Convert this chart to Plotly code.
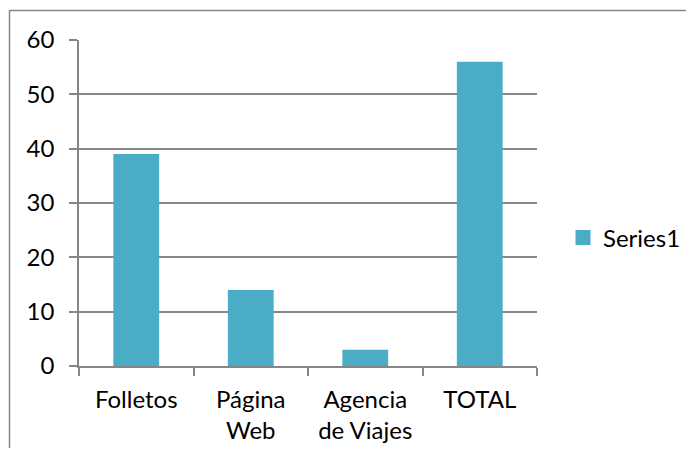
import plotly.graph_objects as go

categories = ["Folletos", "Página<br>Web", "Agencia<br>de Viajes", "TOTAL"]
values = [39, 14, 3, 56]
series_name = "Series1"
y_ticks = [0, 10, 20, 30, 40, 50, 60]

# page body margin offset (8px) compensated
OFF = 8
W, H = 678, 440
L, R, T, B = 79 - OFF, 157 - OFF, 40 - OFF, 90 - OFF
pw, ph = W - L - R, H - T - B

def px_x(p):
    return (p - OFF - L) / pw

def px_y(p):
    return (H - B - (p - OFF)) / ph

gray = "#868686"
bar_color = "#4BACC6"
font = dict(family="Lato, Open Sans, sans-serif", size=24, color="#000000")

fig = go.Figure()
fig.add_trace(go.Bar(x=categories, y=values, name=series_name,
                     marker=dict(color=bar_color, line=dict(width=0)),
                     width=0.4, showlegend=False))
fig.add_trace(go.Scatter(x=[None], y=[None], mode="markers", name=series_name,
                         marker=dict(symbol="square", size=15, color=bar_color),
                         showlegend=True))

fig.update_layout(
    width=W, height=H,
    margin=dict(l=L, r=R, t=T, b=B, pad=0, autoexpand=False),
    paper_bgcolor="white", plot_bgcolor="white",
    font=font,
    showlegend=True,
    legend=dict(x=px_x(563), y=px_y(238), xanchor="left", yanchor="middle",
                font=font, itemwidth=30, bgcolor="rgba(0,0,0,0)"),
    xaxis=dict(showgrid=False, showline=True, linecolor=gray, linewidth=1.5,
               ticks="outside", ticklen=8, tickcolor=gray, tickwidth=1.5,
               tickson="boundaries", tickfont=font, ticklabelstandoff=11),
    yaxis=dict(range=[0, 60], tickvals=y_ticks, showgrid=True, gridcolor=gray,
               gridwidth=1.5, showline=True, linecolor=gray, linewidth=1.5,
               ticks="outside", ticklen=8, tickcolor=gray, tickwidth=1.5,
               tickfont=font, zeroline=False, ticklabelstandoff=10),
    shapes=[dict(type="rect", xref="paper", yref="paper",
                 x0=px_x(9.5), x1=px_x(720), y0=px_y(480), y1=px_y(10.5),
                 line=dict(color=gray, width=1.5), layer="below")],
)

fig.write_html("out.html")
